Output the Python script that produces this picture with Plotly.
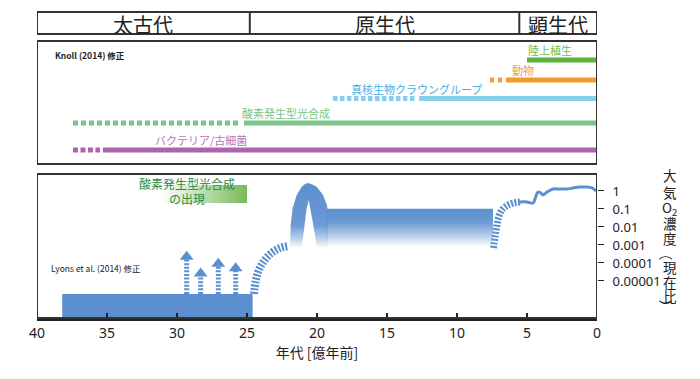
import plotly.graph_objects as go

JP = "Noto Sans CJK JP"
BLUE = "#5b8fcf"

# ---------------- data ----------------
# geological eras (Ga)
era_names = ["太古代", "原生代", "顕生代"]
era_bounds = [40, 24.8, 5.55, 0]

# lineages (Knoll 2014), ages in Ga
lin_names = ["陸上植生", "動物", "真核生物クラウングループ", "酸素発生型光合成", "バクテリア/古細菌"]
lin_row = [10.4, 8.4, 6.55, 4.1, 1.4]
lin_dash_start = [None, 7.64, 18.86, 37.43, 37.43]
lin_dash_end = [None, 6.79, 12.86, 25.43, 35.5]
lin_solid_start = [5.0, 6.5, 12.71, 25.21, 35.29]
lin_label_age = [3.36, 5.29, 12.86, 22.2, 28.3]

# atmospheric O2 (log10 of present level) vs age (Ga)
archean_age = [38.2, 24.6]
archean_log_o2 = -5.72
whiff_age = [29.31, 28.31, 27.05, 25.81]
whiff_log_o2 = [-3.32, -4.26, -3.71, -3.96]
goe_rise_age = [24.5, 24.39, 24.18, 23.79, 23.25, 22.64, 22.07]
goe_rise_log = [-5.72, -5.06, -4.44, -3.89, -3.44, -3.17, -3.06]
arch_age = [21.93, 21.93, 21.88, 21.74, 21.45, 21.09, 20.85, 20.62, 20.38, 20.02, 19.8, 19.57,
            19.29, 19.25, 19.25,
            20.02, 20.14, 20.31, 20.45, 20.59, 20.74, 20.86, 20.98, 21.09]
arch_log = [-3.11, -2.82, -1.89, -0.94, -0.22, 0.24, 0.39, 0.44, 0.38, 0.24, 0.03, -0.22,
            -0.78, -1.0, -3.11,
            -3.17, -2.44, -1.71, -0.96, -0.5, -0.96, -1.71, -2.44, -3.17]
proto_age = [19.3, 7.43]
proto_log = [-0.98, -3.1]
noe_age = [7.39, 7.29, 7.18, 7.04, 6.79, 6.43, 6.0, 5.5]
noe_log = [-3.17, -2.61, -2.06, -1.5, -1.06, -0.81, -0.67, -0.61]
phan_age = [5.5, 5.0, 4.57, 4.36, 4.21, 4.0, 3.86, 3.57, 3.14, 2.64, 2.14, 1.71, 1.21, 0.71, 0.36, 0.07]
phan_log = [-0.61, -0.61, -0.67, -0.28, -0.06, -0.11, -0.22, -0.06, 0.11, 0.11, 0.11, 0.17, 0.22, 0.22, 0.17, 0.0]
oxy_box_age = [31.07, 25.0]
oxy_box_log = [0.33, -0.67]

x_ticks = [40, 35, 30, 25, 20, 15, 10, 5, 0]
y_tickvals = [0, -1, -2, -3, -4, -5]
y_ticktext = ["1", "0.1", "0.01", "0.001", "0.0001", "0.00001"]
Y_MIN, Y_MAX = -7.056, 0.944

ytitle_chars = ["大", "気", "O<sub>2</sub>", "濃", "度", "（", "現", "在", "比", "）"]
ytitle_pos = [0.89, -0.06, -0.94, -1.78, -2.61, -3.5, -4.22, -5.06, -5.83, -6.44]

# ---------------- styles ----------------
lin_colors = ["#5cb33d", "#f39a2e", "#86cdee", "#7cc48a", "#ab66ab"]
lin_label_colors = ["#6dbf4e", "#f0a040", "#45ade2", "#78c488", "#b874b8"]
lin_dash_style = [None, "4px,4px", "4.5px,2.5px", "5px,3px", "5px,2.5px"]
FRAME = "#333333"

fig = go.Figure()

# ---- era bar ----
dx, dy = [], []
for b in era_bounds[1:-1]:
    dx += [b, b, None]
    dy += [0, 1, None]
fig.add_trace(go.Scatter(x=dx, y=dy, yaxis="y3", mode="lines",
                         line=dict(color=FRAME, width=2), hoverinfo="skip", showlegend=False))
for i, n in enumerate(era_names):
    fig.add_annotation(x=(era_bounds[i] + era_bounds[i + 1]) / 2, y=0.45, xref="x", yref="y3",
                       text=n, showarrow=False, font=dict(family=JP, size=20, color="#222222"))

# ---- middle panel: lineages ----
for i, name in enumerate(lin_names):
    if lin_dash_start[i] is not None:
        fig.add_trace(go.Scatter(x=[lin_dash_start[i], lin_dash_end[i]], y=[lin_row[i]] * 2,
                                 mode="lines", yaxis="y2",
                                 line=dict(color=lin_colors[i], width=5, dash=lin_dash_style[i]),
                                 hoverinfo="skip", showlegend=False))
    fig.add_trace(go.Scatter(x=[lin_solid_start[i], 0], y=[lin_row[i]] * 2,
                             mode="lines", yaxis="y2",
                             line=dict(color=lin_colors[i], width=5),
                             name=name, showlegend=False))
    fig.add_annotation(x=lin_label_age[i], y=lin_row[i] + 1.0, xref="x", yref="y2",
                       text=name, showarrow=False,
                       font=dict(family=JP, size=11, color=lin_label_colors[i]))

# ---- bottom panel: O2 ----
# green label box
fig.add_trace(go.Scatter(
    x=[oxy_box_age[0], oxy_box_age[1], oxy_box_age[1], oxy_box_age[0], oxy_box_age[0]],
    y=[oxy_box_log[0], oxy_box_log[0], oxy_box_log[1], oxy_box_log[1], oxy_box_log[0]],
    mode="lines", fill="toself", line=dict(width=0),
    fillgradient=dict(type="horizontal",
                      colorscale=[[0, "rgba(255,255,255,1)"], [1, "rgba(120,185,90,1)"]]),
    hoverinfo="skip", showlegend=False))

# Archean block
fig.add_trace(go.Scatter(
    x=[archean_age[0], archean_age[1], archean_age[1], archean_age[0], archean_age[0]],
    y=[Y_MIN, Y_MIN, archean_log_o2, archean_log_o2, Y_MIN],
    mode="lines", fill="toself", fillcolor=BLUE, line=dict(width=0),
    hoverinfo="skip", showlegend=False))

# whiffs of oxygen: dashed arrows
ax, ay = [], []
for a, t in zip(whiff_age, whiff_log_o2):
    ax += [a, a, None]
    ay += [archean_log_o2, t - 0.45, None]
fig.add_trace(go.Scatter(x=ax, y=ay, mode="lines",
                         line=dict(color=BLUE, width=5, dash="2px,1.6px"),
                         hoverinfo="skip", showlegend=False))
fig.add_trace(go.Scatter(x=whiff_age, y=[t - 0.33 for t in whiff_log_o2], mode="markers",
                         marker=dict(symbol="triangle-up", size=12, color=BLUE),
                         hoverinfo="skip", showlegend=False))

# GOE rise (hatched)
fig.add_trace(go.Scatter(x=goe_rise_age, y=goe_rise_log, mode="lines",
                         line=dict(color=BLUE, width=8, dash="2px,1.6px", shape="spline"),
                         hoverinfo="skip", showlegend=False))

# overshoot arch
arch_grad = [[0, "rgba(91,143,207,0)"], [0.12, "rgba(91,143,207,0.35)"],
             [0.35, "rgba(91,143,207,0.9)"], [1, "rgba(91,143,207,1)"]]
fig.add_trace(go.Scatter(x=arch_age + [arch_age[0]], y=arch_log + [arch_log[0]],
                         mode="lines", fill="toself", line=dict(width=0),
                         fillgradient=dict(type="vertical", colorscale=arch_grad),
                         hoverinfo="skip", showlegend=False))
# Proterozoic plateau
grad = [[0, "rgba(91,143,207,0)"], [0.3, "rgba(91,143,207,0.45)"],
        [0.65, "rgba(91,143,207,0.9)"], [1, "rgba(91,143,207,1)"]]
fig.add_trace(go.Scatter(
    x=[proto_age[0], proto_age[1], proto_age[1], proto_age[0], proto_age[0]],
    y=[proto_log[0], proto_log[0], proto_log[1], proto_log[1], proto_log[0]],
    mode="lines", fill="toself", line=dict(width=0),
    fillgradient=dict(type="vertical", colorscale=grad),
    hoverinfo="skip", showlegend=False))
# NOE rise (hatched)
fig.add_trace(go.Scatter(x=noe_age, y=noe_log, mode="lines",
                         line=dict(color=BLUE, width=7, dash="2px,1.6px", shape="spline"),
                         hoverinfo="skip", showlegend=False))
# Phanerozoic curve
fig.add_trace(go.Scatter(x=phan_age, y=phan_log, mode="lines",
                         line=dict(color=BLUE, width=3, shape="spline"),
                         hoverinfo="skip", showlegend=False))

# ---- frames ----
frame = dict(color=FRAME, width=2)
fig.add_shape(type="rect", xref="x", yref="y3 domain", x0=40, x1=0, y0=0, y1=1, line=frame)
fig.add_shape(type="rect", xref="x", yref="y2 domain", x0=40, x1=0, y0=0, y1=1, line=frame)
fig.add_shape(type="rect", xref="x", yref="y domain", x0=40, x1=0, y0=0, y1=1, line=frame)

# ---- texts ----
fig.add_annotation(x=38.86, y=10.9, xref="x", yref="y2", xanchor="left", showarrow=False,
                   text="<b>Knoll (2014) 修正</b>", font=dict(family=JP, size=8.5, color="#222222"))
fig.add_annotation(x=39.14, y=-4.28, xref="x", yref="y", xanchor="left", showarrow=False,
                   text="Lyons et al. (2014) 修正", font=dict(family=JP, size=8.5, color="#222222"))
fig.add_annotation(x=29.3, y=0.44, xref="x", yref="y", showarrow=False,
                   text="酸素発生型光合成", font=dict(family=JP, size=12, color="#2e8b45"))
fig.add_annotation(x=29.3, y=-0.39, xref="x", yref="y", showarrow=False,
                   text="の出現", font=dict(family=JP, size=12, color="#2e8b45"))

# vertical y-axis title (stacked characters; brackets rotated as in vertical writing)
for c, p in zip(ytitle_chars, ytitle_pos):
    rot = 90 if c in ("（", "）") else 0
    fig.add_annotation(x=1.145, y=p, xref="paper", yref="y", text=c, showarrow=False,
                       textangle=rot, borderpad=0,
                       font=dict(family=JP, size=13.5, color="#222222"))

fig.update_layout(
    width=700, height=379, autosize=False,
    margin=dict(l=37, r=103, t=12, b=61, autoexpand=False),
    paper_bgcolor="white", plot_bgcolor="white",
    xaxis=dict(range=[40, 0], domain=[0, 1], anchor="y", tickvals=x_ticks,
               ticks="inside", ticklen=5, tickwidth=1.5, tickcolor="#222222",
               showline=True, linewidth=3, linecolor="#222222",
               showgrid=False, zeroline=False, automargin=False,
               tickfont=dict(family="Noto Sans", size=14, color="#222222"),
               title=dict(text="年代 [億年前]", font=dict(family=JP, size=14, color="#222222"),
                          standoff=8)),
    yaxis=dict(domain=[0, 0.4706], range=[Y_MIN, Y_MAX], side="right", anchor="x",
               tickvals=y_tickvals, ticktext=y_ticktext, ticks="outside", ticklen=6,
               tickcolor="#222222", ticklabelstandoff=6, automargin=False,
               showgrid=False, zeroline=False, showline=False,
               tickfont=dict(family="Noto Sans", size=13, color="#222222")),
    yaxis2=dict(domain=[0.503, 0.905], range=[0, 12.3], anchor="x", visible=False),
    yaxis3=dict(domain=[0.928, 1.0], range=[0, 1], anchor="x", visible=False),
    showlegend=False,
)

fig.write_html("out.html", config={"displayModeBar": False},
               post_script="document.body.style.margin='0';")
